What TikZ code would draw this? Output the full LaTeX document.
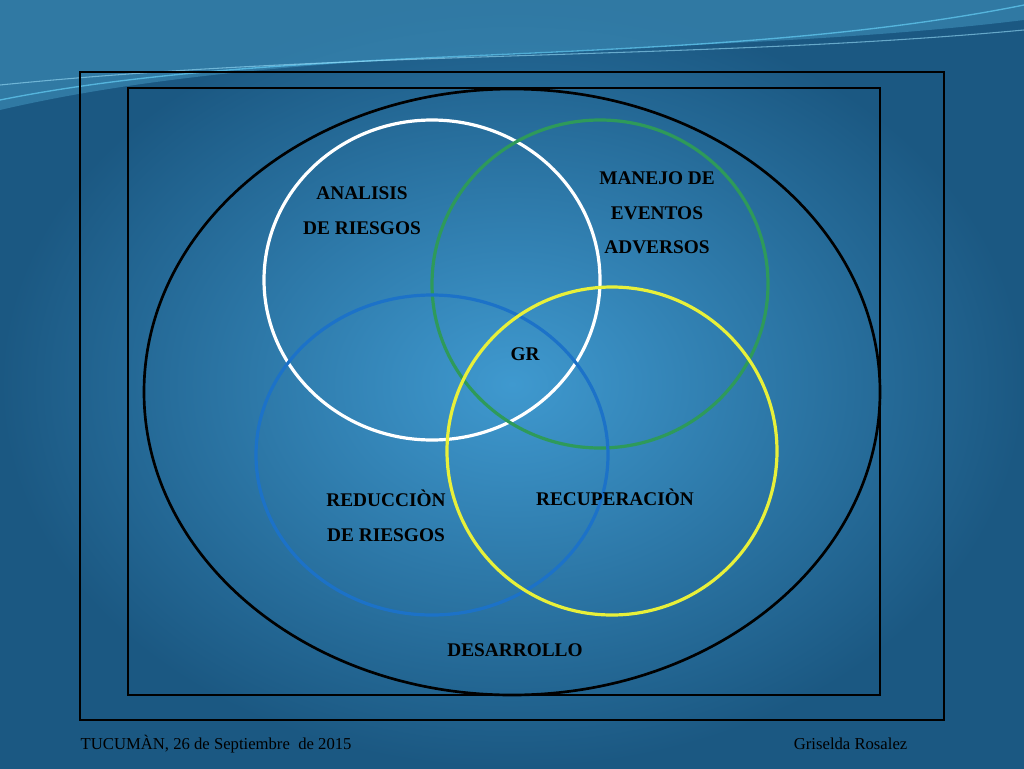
\documentclass[tikz,border=0pt]{standalone}
\usepackage{fontspec}
\setmainfont{Liberation Serif}
\begin{document}
\begin{tikzpicture}[x=0.75pt,y=-0.75pt,
 lbl/.style={font=\fontsize{14.5}{17}\selectfont\bfseries,text=black,align=center},
 foot/.style={font=\fontsize{12.5}{15}\selectfont,text=black},
 ring/.style={line width=2.4pt}]
\definecolor{bgdark}{HTML}{1B5882}
\definecolor{bglight}{HTML}{3F99CF}
\definecolor{ringgreen}{HTML}{2E9A5A}
\definecolor{ringblue}{HTML}{1C72C8}
\definecolor{ringyellow}{HTML}{E8F03A}
\useasboundingbox (0,0) rectangle (1024,768);
\fill[inner color=bglight,outer color=bgdark] (0,0) rectangle (1024,768);
\fill[cyan!50!bgdark,opacity=0.6] (0,0) -- (1024,0) -- (1024,20) .. controls (700,60) and (300,40) .. (0,110) -- cycle;
\draw[cyan!60,line width=1pt,opacity=0.7] (0,100) .. controls (300,40) and (700,70) .. (1024,5);
\draw[cyan!40,line width=0.8pt,opacity=0.6] (0,85) .. controls (350,50) and (700,60) .. (1024,30);
\node[draw=black,line width=1.8pt,minimum width=864*0.75pt,minimum height=648*0.75pt,inner sep=0] (outer) at (512,396) {};
\node[draw=black,line width=1.8pt,minimum width=752*0.75pt,minimum height=607*0.75pt,inner sep=0] (inner) at (504,391.5) {};
\draw[line width=2pt] (512,392) ellipse [x radius=368, y radius=303];
\draw[ring,white] (432,280) ellipse [x radius=168, y radius=160];
\draw[ring,ringgreen] (600,284) ellipse [x radius=168, y radius=164];
\draw[ring,ringblue] (432,455) ellipse [x radius=176, y radius=160];
\draw[ring,ringyellow] (612,451) ellipse [x radius=165, y radius=164];
\node[lbl] (a) at (362,211) {ANALISIS\\[9pt]DE RIESGOS};
\node[lbl] (m) at (657,213) {MANEJO DE\\[9pt]EVENTOS\\[9pt]ADVERSOS};
\node[lbl] (gr) at (525,354) {GR};
\node[lbl] (red) at (386,516) {REDUCCIÒN\\[9pt]DE RIESGOS};
\node[lbl] (rec) at (615,497) {RECUPERACIÒN};
\node[lbl] (des) at (515,650) {DESARROLLO};
\node[foot,anchor=west] (f1) at (76,744) {TUCUMÀN, 26 de Septiembre \ de 2015};
\node[foot,anchor=east] (f2) at (912,744) {Griselda Rosalez};
\end{tikzpicture}
\end{document}
